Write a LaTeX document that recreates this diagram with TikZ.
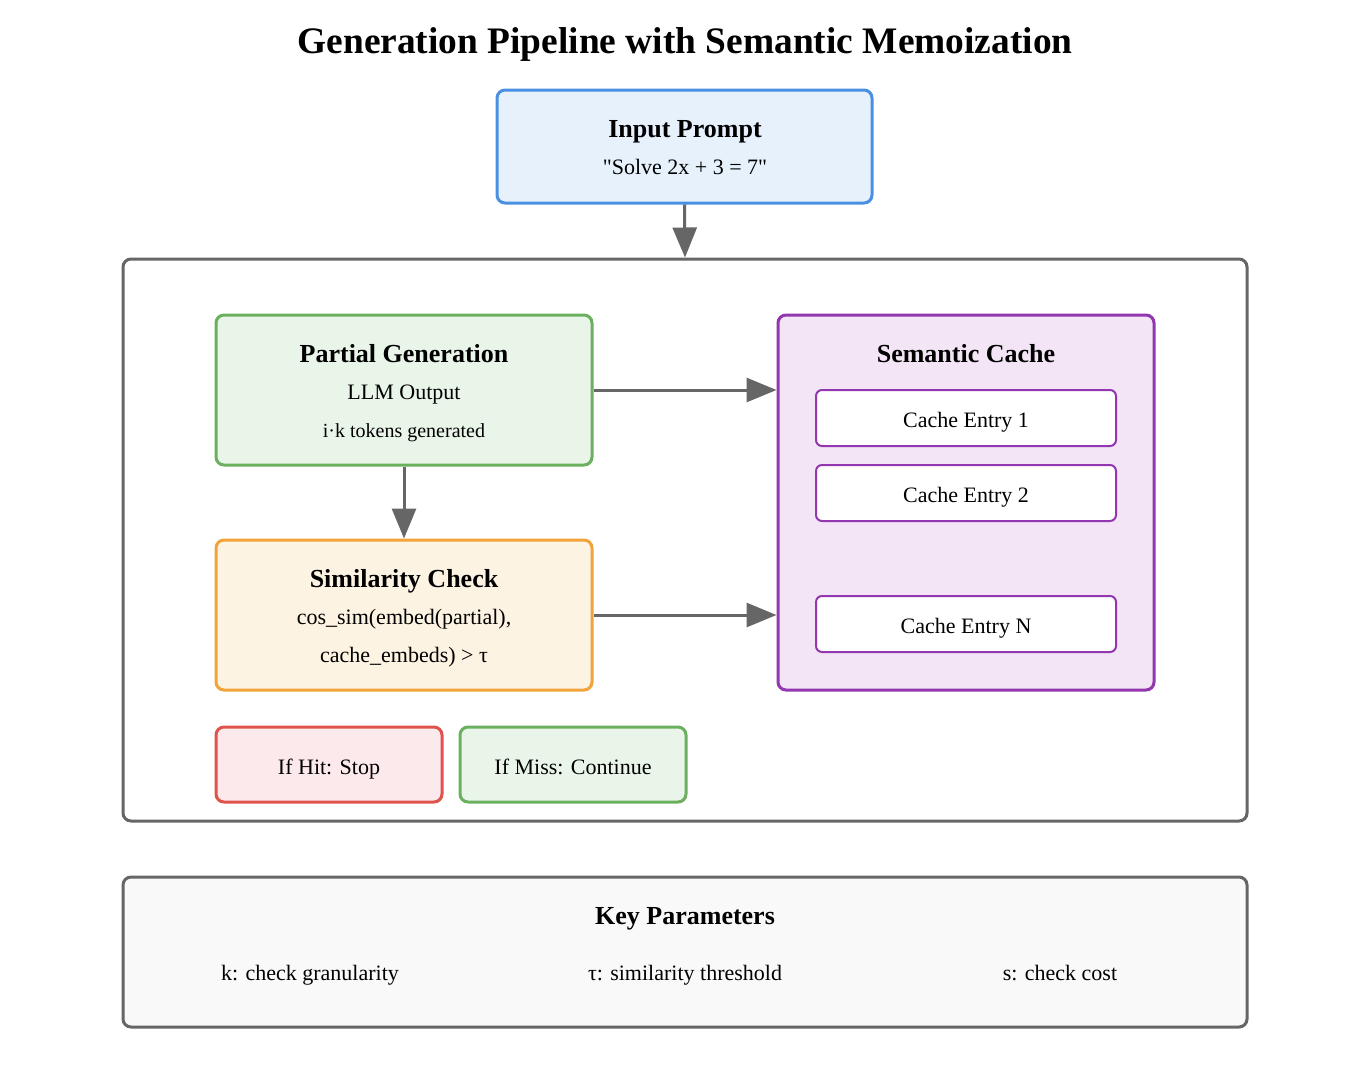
\documentclass[tikz,border=0pt]{standalone}
\usepackage{fontspec}
\setmainfont{Liberation Serif}[Ligatures=TeXOff]
\usetikzlibrary{arrows.meta,positioning}
\definecolor{promptblue}{HTML}{4A90E2}
\definecolor{promptfill}{HTML}{E6F1FC}
\definecolor{gengreen}{HTML}{6AB05E}
\definecolor{genfill}{HTML}{EAF5EA}
\definecolor{checkorange}{HTML}{F2A33A}
\definecolor{checkfill}{HTML}{FDF3E3}
\definecolor{cachepurple}{HTML}{9237B0}
\definecolor{cachefill}{HTML}{F3E5F5}
\definecolor{hitred}{HTML}{E0534A}
\definecolor{hitfill}{HTML}{FCE9EC}
\definecolor{framegrey}{HTML}{666666}
\definecolor{paramfill}{HTML}{F9F9F9}

\begin{document}
\begin{tikzpicture}[x=0.5pt, y=-0.5pt,
    stage/.style={rectangle, draw, line width=1.5pt, rounded corners=4pt,
        minimum width=188pt, minimum height=75pt},
    entry/.style={rectangle, draw=cachepurple, line width=1pt, fill=white,
        rounded corners=3pt, minimum width=150pt, minimum height=28pt,
        text height=11pt, text depth=1.3pt, font=\fontsize{11pt}{13pt}\selectfont},
    outcome/.style={stage, minimum width=113pt, minimum height=37.5pt,
        text height=11.5pt, text depth=1.3pt, font=\fontsize{11pt}{13pt}\selectfont},
    frame/.style={rectangle, draw=framegrey, line width=1.5pt, rounded corners=4pt,
        minimum width=562pt},
    head/.style={anchor=base, font=\fontsize{13pt}{15pt}\selectfont\bfseries},
    plain/.style={anchor=base, font=\fontsize{11pt}{13pt}\selectfont},
    small/.style={anchor=base, font=\fontsize{10pt}{12pt}\selectfont},
    arr/.style={-{Triangle[length=15pt, width=12pt]}, line width=1.5pt, framegrey}
]
    \useasboundingbox (0,0) rectangle (1368,1076);

    \node[anchor=base, font=\fontsize{18.7pt}{22pt}\selectfont\bfseries] (title) at (685,53)
        {Generation Pipeline with Semantic Memoization};

    % prompt and generation loop
    \node[stage, draw=promptblue, fill=promptfill, minimum width=187.5pt, minimum height=56.5pt]
        (prompt) at (684.5,146.5) {};
    \node[head] (prompthead) at (685,137) {Input Prompt};
    \node[plain] (prompttext) at (685,174.7) {"Solve 2x + 3 = 7"};
    \node[frame, fill=white, minimum height=281pt] (loop) at (685,540) {};

    \node[stage, draw=gengreen, fill=genfill] (gen) at (404,390) {};
    \node[head] (genhead) at (404,362) {Partial Generation};
    \node[plain] (gentext) at (404,399.7) {LLM Output};
    \node[small] (gensub) at (404,437) {i·k tokens generated};

    \node[stage, draw=checkorange, fill=checkfill] (check) at (404,615) {};
    \node[head] (checkhead) at (404,587) {Similarity Check};
    \node[plain] (checktext) at (404,624.7) {cos\_sim(embed(partial),};
    \node[plain] (checksub) at (404,662.5) {cache\_embeds) > τ};

    \node[stage, draw=cachepurple, fill=cachefill, minimum height=187.5pt] (cache) at (966,502.5) {};
    \node[head] (cachehead) at (966,362) {Semantic Cache};
    \node[entry] (entry1) at (966,418) {Cache Entry 1};
    \node[entry] (entry2) at (966,493) {Cache Entry 2};
    \node[entry] (entryN) at (966,624) {Cache Entry N};

    \node[outcome, draw=hitred, fill=hitfill] (hit) at (329,764.5) {If Hit: Stop};
    \node[outcome, draw=gengreen, fill=genfill] (miss) at (573,764.5) {If Miss: Continue};

    \draw[arr] (prompt.south) -- (loop.north);
    \draw[arr] (gen.south) -- (check.north);
    \draw[arr] (gen.east) -- (cache.west |- gen.east);
    \draw[arr] (check.east) -- (cache.west |- check.east);

    % parameters
    \node[frame, fill=paramfill, minimum height=75pt] (params) at (685,952) {};
    \node[head] (paramhead) at (685,924) {Key Parameters};
    \node[plain] (pk) at (310,980.7) {k: check granularity};
    \node[plain] (ptau) at (685,980.7) {τ: similarity threshold};
    \node[plain] (ps) at (1060,980.7) {s: check cost};
\end{tikzpicture}
\end{document}
